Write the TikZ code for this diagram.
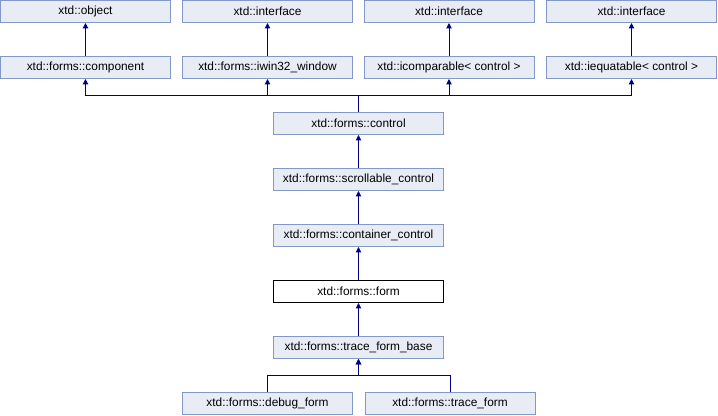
\documentclass[tikz,border=0pt]{standalone}
\usepackage{fontspec}
\setmainfont{Liberation Sans}
\usetikzlibrary{arrows.meta}
\definecolor{boxfill}{RGB}{232,236,245}
\definecolor{boxline}{RGB}{132,152,200}
\definecolor{linkcol}{RGB}{0,0,128}
\begin{document}
\begin{tikzpicture}[x=0.75pt,y=-0.75pt,
  cls/.style={draw=boxline,fill=boxfill,line width=0.75pt,minimum width=127.5pt,minimum height=16.5pt,inner sep=0pt,font=\fontsize{8.9pt}{11pt}\selectfont},
  cur/.style={cls,draw=black,fill=white},
  link/.style={draw=linkcol,line width=0.75pt,-{Triangle[length=4pt,width=4pt]}}]
\useasboundingbox (0,0) rectangle (718,416);
\node[cls] (object) at (85.5,11.5) {xtd::object};
\node[cls] (iface1) at (267.5,11.5) {xtd::interface};
\node[cls] (iface2) at (449,11.5) {xtd::interface};
\node[cls] (iface3) at (631.5,11.5) {xtd::interface};
\node[cls] (component) at (85.5,67.5) {xtd::forms::component};
\node[cls] (iwin) at (267.5,67.5) {xtd::forms::iwin32\_window};
\node[cls] (icomp) at (449,67.5) {xtd::icomparable< control >};
\node[cls] (iequat) at (631.5,67.5) {xtd::iequatable< control >};
\node[cls] (control) at (358.5,123.5) {xtd::forms::control};
\node[cls] (scroll) at (358.5,179.5) {xtd::forms::scrollable\_control};
\node[cls] (container) at (358.5,235.5) {xtd::forms::container\_control};
\node[cur] (form) at (358.5,291.5) {xtd::forms::form};
\node[cls] (tfb) at (358.5,347.5) {xtd::forms::trace\_form\_base};
\node[cls] (debug) at (267.5,403.5) {xtd::forms::debug\_form};
\node[cls] (trace) at (450,403.5) {xtd::forms::trace\_form};
\coordinate (bus) at (358.5,96);
\coordinate (bus2) at (358.5,376);
\draw[link] (component.north) -- (object.south);
\draw[link] (iwin.north) -- (iface1.south);
\draw[link] (icomp.north) -- (iface2.south);
\draw[link] (iequat.north) -- (iface3.south);
\draw[link] (control.north) -- (bus) -| (component.south);
\draw[link] (control.north) -- (bus) -| (iwin.south);
\draw[link] (control.north) -- (bus) -| (icomp.south);
\draw[link] (control.north) -- (bus) -| (iequat.south);
\draw[link] (scroll.north) -- (control.south);
\draw[link] (container.north) -- (scroll.south);
\draw[link] (form.north) -- (container.south);
\draw[link] (tfb.north) -- (form.south);
\draw[link] (debug.north) |- (bus2) -- (tfb.south);
\draw[link] (trace.north) |- (bus2) -- (tfb.south);
\end{tikzpicture}
\end{document}
